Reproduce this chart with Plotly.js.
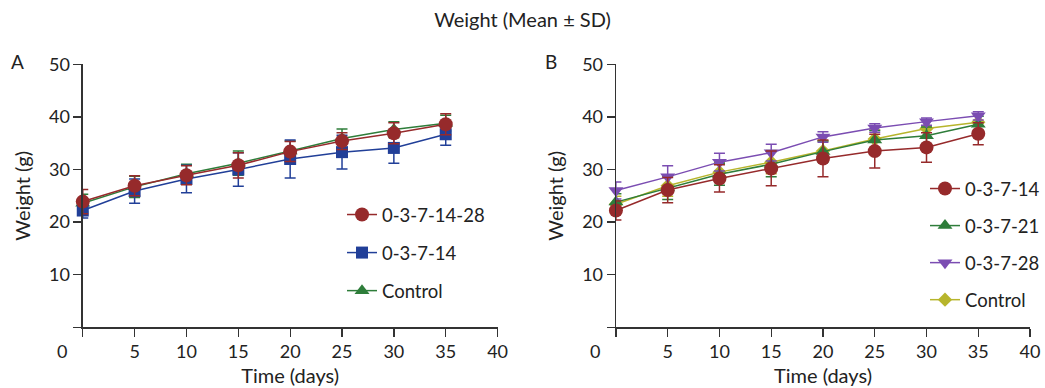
<!DOCTYPE html>
<html>
<head>
<meta charset="utf-8">
<script src="https://cdn.plot.ly/plotly-3.0.1.min.js"></script>
<style>html,body{margin:0;padding:0;background:#fff;}#chart{width:1045px;height:388px;}</style>
</head>
<body>
<div id="chart"></div>
<script>
// ---- data ----
const days = [0, 5, 10, 15, 20, 25, 30, 35];
const xTickVals = [0, 5, 10, 15, 20, 25, 30, 35, 40];
const xTickText = ['', '5', '10', '15', '20', '25', '30', '35', '40'];
const yTickVals = [0, 10, 20, 30, 40, 50];
const yTickText = ['', '10', '20', '30', '40', '50'];

// Panel A
const a_1428_mean = [23.9, 26.9, 28.9, 30.8, 33.4, 35.4, 36.9, 38.6];
const a_1428_sd   = [2.3, 1.9, 1.8, 2.4, 1.9, 1.6, 2.0, 2.0];
const a_14_mean   = [22.2, 25.9, 28.2, 30.0, 32.0, 33.3, 34.1, 36.7];
const a_14_sd     = [1.4, 2.3, 2.6, 3.2, 3.6, 3.2, 2.9, 2.1];
const a_ctrl_mean = [23.6, 26.7, 29.2, 31.2, 33.5, 35.9, 37.6, 38.8];
const a_ctrl_sd   = [1.7, 2.0, 1.8, 2.3, 1.9, 1.8, 1.5, 1.5];

// Panel B
const b_14_mean   = [22.2, 26.1, 28.3, 30.2, 32.1, 33.5, 34.2, 36.8];
const b_14_sd     = [1.8, 2.4, 2.6, 3.3, 3.5, 3.2, 2.8, 2.1];
const b_21_mean   = [23.8, 26.5, 29.1, 31.0, 33.4, 35.6, 36.4, 38.6];
const b_21_sd     = [1.6, 2.2, 2.1, 2.4, 2.0, 1.8, 1.7, 1.5];
const b_28_mean   = [26.0, 28.6, 31.4, 33.2, 36.2, 37.9, 39.1, 40.2];
const b_28_sd     = [1.6, 2.1, 1.7, 1.6, 1.0, 0.8, 0.7, 0.8];
const b_ctrl_mean = [23.4, 26.9, 29.5, 31.4, 33.5, 35.8, 37.8, 39.0];
const b_ctrl_sd   = [1.5, 2.0, 1.9, 2.2, 1.9, 1.7, 1.6, 1.5];

// ---- styles ----
const RED = '#962a2b', BLUE = '#213f98', GREEN = '#2e7d3a', PURPLE = '#7b4db2', YELLOW = '#b7b52c';
const FONT = 'Lato, "Open Sans", sans-serif';

function tr(name, x, y, sd, color, symbol, size, xa, ya, leg, rank) {
  return {
    type: 'scatter', mode: 'lines+markers', name: name, x: x, y: y,
    xaxis: xa, yaxis: ya, legend: leg, legendgroup: leg + name, legendrank: rank,
    line: {color: color, width: 1.5},
    marker: {color: color, symbol: symbol, size: size, line: {width: 0}},
    error_y: {type: 'data', array: sd, visible: true, color: color, thickness: 1.5, width: 5.5},
    cliponaxis: false
  };
}

const data = [
  tr('Control', days, a_ctrl_mean, a_ctrl_sd, GREEN, 'triangle-up', 13, 'x', 'y', 'legend', 3),
  tr('0-3-7-14', days, a_14_mean, a_14_sd, BLUE, 'square', 12, 'x', 'y', 'legend', 2),
  tr('0-3-7-14-28', days, a_1428_mean, a_1428_sd, RED, 'circle', 14, 'x', 'y', 'legend', 1),
  tr('Control', days, b_ctrl_mean, b_ctrl_sd, YELLOW, 'diamond', 11, 'x2', 'y2', 'legend2', 4),
  tr('0-3-7-21', days, b_21_mean, b_21_sd, GREEN, 'triangle-up', 13, 'x2', 'y2', 'legend2', 2),
  tr('0-3-7-28', days, b_28_mean, b_28_sd, PURPLE, 'triangle-down', 13, 'x2', 'y2', 'legend2', 3),
  tr('0-3-7-14', days, b_14_mean, b_14_sd, RED, 'circle', 14, 'x2', 'y2', 'legend2', 1)
];

const W = 1045, H = 388;
const px = v => v / W, py = v => 1 - v / H;

function xax(domain, anchor) {
  return {
    domain: domain, anchor: anchor, range: [0, 40], tickmode: 'array',
    tickvals: xTickVals, ticktext: xTickText, ticks: 'outside', ticklen: 8, tickwidth: 1.3,
    tickcolor: '#333', showline: true, linecolor: '#333', linewidth: 1.3, showgrid: false, zeroline: false,
    tickfont: {size: 18, color: '#222', family: FONT},
    title: {text: 'Time (days)', font: {size: 20, color: '#222', family: FONT}, standoff: 7}
  };
}
function yax(domain, anchor) {
  return {
    domain: domain, anchor: anchor, range: [0, 50], tickmode: 'array',
    tickvals: yTickVals, ticktext: yTickText, ticks: 'outside', ticklen: 8, tickwidth: 1.3,
    tickcolor: '#333', showline: true, linecolor: '#333', linewidth: 1.3, showgrid: false, zeroline: false,
    tickfont: {size: 18, color: '#222', family: FONT},
    title: {text: 'Weight (g)', font: {size: 20, color: '#222', family: FONT}, standoff: 13}
  };
}

const yDom = [py(327.3), py(64.3)];
const layout = {
  width: W, height: H, margin: {l: 0, r: 0, t: 0, b: 0},
  paper_bgcolor: '#fff', plot_bgcolor: '#fff',
  font: {family: FONT, size: 18, color: '#222'},
  title: {text: 'Weight (Mean ± SD)', x: 0.5, xanchor: 'center', y: py(20), yanchor: 'middle', yref: 'container',
          font: {size: 20, color: '#222', family: FONT}},
  xaxis: xax([px(83), px(499)], 'y'),
  yaxis: yax(yDom, 'x'),
  xaxis2: xax([px(617.7), px(1033)], 'y2'),
  yaxis2: yax(yDom, 'x2'),
  showlegend: true,
  legend: {x: px(343), y: py(196), xanchor: 'left', yanchor: 'top', bgcolor: 'rgba(0,0,0,0)',
           font: {size: 18.5, color: '#222', family: FONT}, tracegroupgap: 11, itemwidth: 30},
  legend2: {x: px(928), y: py(170), xanchor: 'left', yanchor: 'top', bgcolor: 'rgba(0,0,0,0)',
           font: {size: 18.5, color: '#222', family: FONT}, tracegroupgap: 10, itemwidth: 30},
  annotations: [
    {text: 'A', x: px(18), y: py(62), xref: 'paper', yref: 'paper', showarrow: false, xanchor: 'center', yanchor: 'middle', font: {size: 19}},
    {text: 'B', x: px(553), y: py(62), xref: 'paper', yref: 'paper', showarrow: false, xanchor: 'center', yanchor: 'middle', font: {size: 19}},
    {text: '0', x: px(62), y: py(351), xref: 'paper', yref: 'paper', showarrow: false, xanchor: 'center', yanchor: 'middle', font: {size: 18}},
    {text: '0', x: px(597), y: py(351), xref: 'paper', yref: 'paper', showarrow: false, xanchor: 'center', yanchor: 'middle', font: {size: 18}}
  ]
};

Plotly.newPlot('chart', data, layout, {displayModeBar: false, staticPlot: true});
</script>
</body>
</html>
